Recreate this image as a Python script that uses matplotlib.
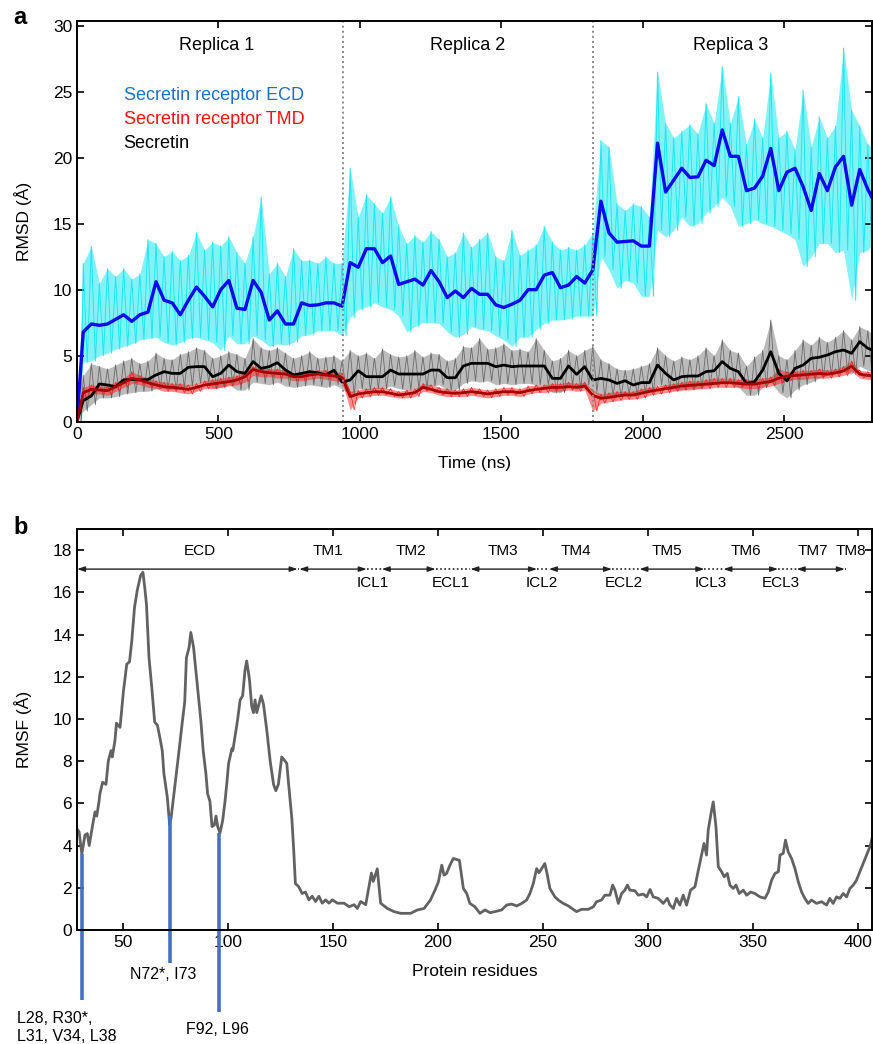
import numpy as np
import matplotlib
matplotlib.use('Agg')
from matplotlib import pyplot as plt

plt.rcParams['font.family'] = ['Liberation Sans', 'DejaVu Sans']

# ---- panel a: RMSD, one averaged point every 28.6 ns (first one at 22 ns)
t_avg = np.concatenate([[0.0], 22 + 28.6*np.arange(99)])
replica_edges = [940, 1823]
replica_names = ['Replica 1', 'Replica 2', 'Replica 3']
replica_mid = [494, 1380, 2311]

ecd_avg = [6.8, 7.4, 7.3, 7.4, 7.75, 8.1, 7.6, 8.1, 8.3, 10.6,
           9.2, 9.0, 8.1, 9.2, 10.2, 9.5, 8.7, 10.0, 10.7, 8.6,
           8.5, 10.7, 9.8, 7.7, 8.4, 7.4, 7.4, 9.0, 8.8, 8.85,
           9.0, 9.0, 8.75, 12.05, 11.7, 13.1, 13.1, 12.05, 12.55, 10.4,
           10.6, 10.8, 10.35, 11.45, 10.6, 9.4, 9.9, 9.4, 10.1, 9.65,
           9.65, 8.85, 8.65, 8.9, 9.2, 10.0, 10.0, 11.1, 11.3, 10.15,
           10.35, 11.0, 10.5, 11.5, 16.7, 14.3, 13.6, 13.65, 13.7, 13.3,
           13.3, 21.1, 17.4, 18.3, 19.2, 18.5, 18.55, 19.8, 19.4, 22.1,
           20.1, 20.1, 17.5, 17.7, 18.6, 20.7, 17.5, 18.9, 19.2, 17.8,
           16.0, 18.8, 17.5, 19.3, 20.1, 16.4, 19.1, 17.6, 16.4]
ecd_lo = [4.5, 4.6, 5.0, 5.2, 5.5, 5.7, 5.9, 6.2, 6.3, 6.4,
          6.0, 5.8, 6.0, 6.3, 6.4, 6.2, 6.0, 5.4, 6.5, 5.9,
          5.9, 6.5, 6.2, 5.7, 5.9, 5.8, 6.0, 6.5, 6.6, 6.9,
          6.9, 6.9, 6.5, 7.9, 8.5, 8.7, 9.0, 8.7, 8.5, 8.0,
          6.8, 7.2, 7.5, 7.5, 7.45, 6.8, 6.4, 6.6, 7.2, 7.0,
          6.9, 6.5, 6.2, 5.7, 6.4, 6.4, 7.0, 7.45, 7.7, 7.7,
          7.8, 8.0, 8.0, 8.0, 12.5, 11.5, 10.1, 10.7, 10.5, 9.5,
          9.5, 14.5, 14.0, 14.5, 15.5, 14.8, 15.0, 15.8, 16.3, 17.0,
          16.3, 14.8, 15.0, 15.3, 15.0, 14.8, 14.5, 14.2, 13.8, 11.75,
          12.5, 13.5, 13.5, 12.8, 13.0, 9.2, 12.8, 13.0, 13.8]
ecd_hi = [12.0, 13.3, 10.5, 11.6, 11.0, 11.6, 10.8, 11.2, 13.8, 13.5,
          12.5, 12.9, 12.2, 12.6, 14.3, 13.0, 13.6, 13.3, 14.0, 12.8,
          12.0, 14.0, 17.0, 11.2, 12.0, 11.0, 13.1, 12.2, 12.25, 12.0,
          12.5, 12.0, 12.0, 19.2, 15.5, 17.2, 16.5, 15.8, 17.0, 14.8,
          13.5, 14.1, 13.6, 14.4, 13.8, 12.5, 12.8, 14.3, 13.2, 13.8,
          14.3, 12.5, 12.2, 14.5, 12.6, 13.0, 13.4, 14.8, 13.6, 13.0,
          13.2, 13.0, 13.4, 14.3, 21.3, 20.8, 16.5, 16.0, 16.5, 16.3,
          15.5, 26.5, 22.6, 21.5, 22.0, 22.5, 21.8, 24.1, 22.6, 26.9,
          22.6, 24.6, 21.0, 22.9, 21.5, 26.4, 21.5, 22.0, 20.6, 25.1,
          20.8, 23.1, 21.5, 22.4, 28.3, 23.6, 22.4, 21.0, 20.6]

sec_avg = [1.6, 1.95, 2.86, 2.78, 2.65, 3.16, 3.2, 3.16, 3.2, 3.54,
           3.79, 3.66, 3.66, 4.12, 4.17, 4.17, 3.41, 3.66, 4.29, 3.79,
           3.66, 4.55, 4.04, 4.17, 4.47, 3.92, 3.54, 3.66, 3.79, 3.7,
           3.54, 3.9, 3.0, 3.16, 3.86, 3.41, 3.41, 3.41, 3.91, 3.61,
           3.61, 3.61, 3.61, 3.91, 3.91, 3.33, 3.33, 4.22, 4.42, 4.42,
           4.42, 4.17, 4.29, 4.17, 4.22, 4.22, 4.22, 4.22, 3.28, 3.28,
           4.22, 3.59, 4.17, 3.16, 3.28, 3.16, 2.9, 3.1, 2.78, 2.96,
           2.96, 4.29, 3.66, 3.16, 3.41, 3.46, 3.46, 3.79, 3.86, 4.55,
           4.04, 3.79, 2.9, 3.03, 3.91, 5.3, 3.66, 3.1, 4.04, 4.29,
           4.8, 4.88, 5.05, 5.3, 5.43, 5.18, 6.06, 5.56, 5.3]
sec_lo = [0.8, 1.3, 1.8, 1.8, 1.9, 2.1, 2.2, 2.3, 2.3, 2.5,
          2.5, 2.4, 2.6, 2.7, 2.9, 3.0, 2.5, 2.6, 2.8, 2.4,
          2.4, 3.0, 2.9, 2.8, 3.0, 2.7, 2.6, 2.7, 2.8, 2.7,
          2.6, 2.8, 2.5, 2.0, 2.5, 2.4, 2.5, 2.5, 2.7, 2.5,
          2.4, 2.5, 2.6, 2.7, 2.8, 2.4, 2.4, 2.9, 3.1, 3.0,
          3.1, 2.8, 2.9, 2.8, 2.9, 2.9, 2.8, 2.8, 2.2, 2.2,
          2.8, 2.5, 2.8, 2.3, 1.8, 2.0, 1.9, 2.1, 2.0, 2.2,
          2.2, 2.8, 2.5, 2.4, 2.4, 2.5, 2.5, 2.7, 2.8, 3.0,
          2.9, 2.6, 2.0, 2.0, 2.6, 3.0, 2.2, 1.8, 2.4, 2.8,
          3.0, 3.3, 3.5, 3.6, 3.8, 3.6, 4.2, 3.9, 3.7]
sec_hi = [3.5, 4.4, 4.2, 4.0, 4.3, 4.6, 4.8, 4.4, 4.6, 5.2,
          4.8, 4.7, 5.1, 5.3, 5.6, 5.4, 4.8, 5.0, 5.3, 5.1,
          4.8, 6.3, 5.6, 5.4, 5.6, 5.2, 4.8, 5.0, 5.3, 4.8,
          4.9, 5.0, 4.6, 5.4, 5.0, 5.2, 4.8, 5.5, 5.1, 4.9,
          5.0, 5.4, 4.9, 5.2, 5.1, 4.6, 4.8, 5.7, 5.6, 6.3,
          5.5, 5.6, 5.9, 5.4, 5.5, 5.3, 6.3, 5.4, 4.6, 4.8,
          5.4, 5.0, 5.4, 5.7, 4.7, 4.4, 4.0, 3.9, 4.0, 4.2,
          4.4, 5.6, 5.0, 4.6, 4.9, 4.7, 5.0, 5.6, 5.0, 6.2,
          5.4, 5.2, 4.2, 4.9, 5.4, 7.7, 5.0, 4.7, 5.4, 6.2,
          5.8, 6.4, 6.0, 6.4, 6.9, 6.2, 7.2, 6.9, 6.5]

tmd_avg = [2.2, 2.45, 2.4, 2.35, 2.65, 2.95, 3.28, 3.16, 2.95, 2.78,
           2.65, 2.6, 2.53, 2.45, 2.6, 2.78, 2.86, 2.95, 3.03, 3.16,
           3.41, 3.96, 3.79, 3.71, 3.66, 3.61, 3.41, 3.41, 3.54, 3.61,
           3.54, 3.46, 3.36, 1.9, 2.1, 2.2, 2.27, 2.27, 2.15, 2.02,
           2.1, 2.2, 2.6, 2.45, 2.27, 2.2, 2.15, 2.2, 2.27, 2.2,
           2.1, 2.2, 2.27, 2.27, 2.2, 2.35, 2.45, 2.53, 2.6, 2.6,
           2.65, 2.6, 2.7, 2.0, 1.77, 1.84, 1.94, 2.02, 2.02, 2.15,
           2.3, 2.4, 2.5, 2.6, 2.7, 2.75, 2.8, 2.85, 2.9, 2.95,
           2.95, 2.9, 2.85, 2.85, 2.95, 3.05, 3.3, 3.45, 3.5, 3.55,
           3.6, 3.65, 3.6, 3.7, 3.85, 4.2, 3.6, 3.5, 3.5]
tmd_lo = [1.6, 2.1, 2.1, 2.0, 2.3, 2.6, 2.9, 2.8, 2.6, 2.5,
          2.3, 2.3, 2.2, 2.1, 2.3, 2.5, 2.5, 2.6, 2.7, 2.8,
          3.0, 3.5, 3.4, 3.4, 3.3, 3.3, 3.1, 3.1, 3.2, 3.3,
          3.2, 3.1, 3.0, 0.9, 1.8, 1.9, 2.0, 2.0, 1.9, 1.8,
          1.8, 1.9, 2.3, 2.2, 2.0, 1.9, 1.9, 1.9, 2.0, 1.9,
          1.8, 1.9, 2.0, 2.0, 1.9, 2.1, 2.2, 2.2, 2.3, 2.3,
          2.4, 2.3, 2.4, 0.8, 1.4, 1.5, 1.6, 1.7, 1.7, 1.8,
          2.0, 2.1, 2.2, 2.3, 2.4, 2.4, 2.5, 2.5, 2.6, 2.6,
          2.6, 2.6, 2.5, 2.5, 2.6, 2.7, 2.9, 3.1, 3.2, 3.2,
          3.3, 3.3, 3.3, 3.4, 3.5, 3.8, 3.3, 3.2, 3.2]
tmd_hi = [2.6, 2.8, 2.7, 2.7, 3.0, 3.3, 3.8, 3.5, 3.3, 3.1,
          3.0, 2.9, 2.9, 2.8, 2.9, 3.1, 3.2, 3.3, 3.4, 3.5,
          3.8, 4.2, 4.1, 4.0, 4.0, 3.9, 3.7, 3.7, 3.9, 3.9,
          3.9, 3.8, 3.7, 2.3, 2.4, 2.5, 2.6, 2.6, 2.5, 2.3,
          2.4, 2.5, 2.9, 2.8, 2.6, 2.5, 2.4, 2.5, 2.6, 2.5,
          2.4, 2.5, 2.6, 2.6, 2.5, 2.7, 2.8, 2.8, 2.9, 2.9,
          3.0, 2.9, 3.0, 2.4, 2.1, 2.2, 2.3, 2.3, 2.3, 2.5,
          2.6, 2.7, 2.8, 2.9, 3.0, 3.1, 3.1, 3.2, 3.3, 3.3,
          3.3, 3.2, 3.2, 3.2, 3.3, 3.4, 4.0, 3.8, 3.8, 3.9,
          3.9, 4.0, 3.9, 4.0, 4.2, 4.6, 3.9, 3.8, 3.8]

# ---- panel b: RMSF per residue
resid = [28.1, 29.2, 30.5, 32.0, 33.1, 34.0, 35.7, 36.8, 37.6, 38.7, 39.1, 40.4, 42.0,
         43.1, 44.4, 45.0, 46.3, 47.0, 48.7, 50.3, 51.9, 53.2, 54.3, 55.6, 56.9, 58.5,
         59.6, 60.5, 61.3, 62.5, 63.8, 65.2, 66.5, 67.7, 68.8, 69.6, 71.2, 72.3, 73.0,
         73.6, 75.2, 76.8, 78.4, 79.5, 80.3, 81.6, 82.4, 83.7, 85.6, 87.2, 88.3, 89.6,
         90.4, 91.5, 92.5, 93.6, 94.4, 95.2, 96.3, 97.6, 98.7, 99.5, 100.4, 102.0, 102.4,
         103.5, 104.6, 105.9, 107.1, 108.2, 109.0, 110.3, 111.4, 112.2, 113.0, 113.8,
         115.9, 117.0, 118.6, 120.2, 121.8, 122.9, 124.1, 125.7, 128.1, 128.9, 130.5,
         131.4, 132.2, 133.8, 135.4, 137.0, 138.6, 140.2, 141.8, 143.4, 145.0, 146.6,
         148.2, 149.8, 152.2, 155.4, 157.8, 160.2, 161.7, 163.3, 165.7, 167.3, 168.4,
         169.3, 171.2, 172.8, 176.0, 179.2, 182.4, 187.1, 190.3, 193.5, 196.5, 198.7,
         200.3, 201.9, 203.0, 204.2, 205.8, 207.4, 209.0, 210.3, 211.4, 212.2, 213.8,
         215.3, 217.7, 220.1, 222.5, 224.9, 227.2, 230.4, 232.8, 235.2, 237.6, 240.0,
         242.3, 243.9, 245.5, 247.1, 248.2, 249.5, 251.0, 252.2, 253.4, 255.8, 257.4,
         259.8, 262.2, 266.1, 268.5, 271.7, 274.1, 275.6, 278.0, 279.6, 282.0, 283.3,
         284.4, 286.0, 287.6, 289.1, 290.3, 291.5, 293.9, 295.5, 297.9, 299.5, 301.1,
         302.6, 305.0, 307.4, 309.3, 310.6, 312.2, 313.7, 315.3, 316.9, 318.5, 320.4,
         322.5, 324.1, 325.6, 326.8, 328.0, 328.8, 330.1, 331.2, 332.5, 333.6, 335.2,
         336.4, 337.9, 339.1, 340.7, 342.0, 343.6, 345.5, 347.1, 349.0, 351.0, 353.4,
         355.8, 357.4, 359.0, 360.6, 362.2, 363.0, 364.5, 365.6, 366.9, 368.5, 370.1,
         371.7, 373.3, 374.8, 376.4, 378.0, 380.4, 382.8, 385.2, 386.7, 388.3, 389.9,
         391.5, 393.1, 394.7, 396.3, 397.9, 399.4, 401.0, 402.6, 404.2, 405.8, 407.0]
rmsf = [4.8, 4.65, 3.6, 4.5, 4.57, 4.0, 5.0, 5.6, 5.4, 6.1, 6.45, 7.0, 6.9,
        8.0, 8.5, 8.2, 9.0, 9.8, 9.6, 11.3, 12.6, 12.7, 13.7, 15.3, 16.1, 16.8,
        16.95, 16.2, 15.4, 12.9, 11.5, 9.85, 9.7, 9.1, 8.5, 7.4, 6.3, 5.0, 5.3,
        5.8, 7.1, 8.5, 9.9, 10.8, 12.9, 13.4, 14.1, 13.4, 11.5, 9.9, 8.5, 7.4,
        6.45, 6.1, 4.9, 4.97, 5.4, 4.9, 4.6, 5.2, 6.1, 6.9, 7.9, 8.6, 8.5,
        9.2, 9.9, 10.9, 11.1, 12.3, 12.75, 11.9, 10.6, 10.3, 10.9, 10.3,
        11.1, 10.7, 9.45, 8.0, 6.9, 6.6, 6.9, 8.2, 7.9, 7.0, 5.3,
        3.8, 2.2, 2.05, 1.73, 1.8, 1.43, 1.6, 1.35, 1.6, 1.27, 1.43,
        1.27, 1.43, 1.27, 1.27, 1.1, 1.2, 1.02, 1.35, 1.2, 2.1, 2.7,
        2.3, 2.9, 1.27, 1.02, 0.87, 0.79, 0.79, 0.95, 1.02, 1.42, 1.89,
        2.28, 3.07, 2.6, 2.68, 3.07, 3.39, 3.34, 3.3, 2.52, 1.97, 1.73,
        1.26, 1.1, 0.79, 0.95, 0.82, 0.87, 0.95, 1.18, 1.23, 1.14, 1.26,
        1.42, 1.73, 2.2, 2.91, 2.71, 2.91, 3.15, 2.6, 1.97, 1.57, 1.42,
        1.26, 1.14, 0.87, 0.98, 0.98, 1.1, 1.34, 1.42, 1.65, 1.65, 2.13,
        1.89, 1.26, 1.73, 1.89, 2.13, 1.89, 1.86, 1.65, 1.7, 1.57, 1.92,
        1.57, 1.5, 1.26, 1.5, 1.18, 1.02, 1.5, 1.18, 1.65, 1.18, 1.89,
        2.05, 2.84, 3.55, 4.1, 3.55, 4.73, 5.5, 6.07, 4.88, 3.0, 2.76,
        2.52, 2.68, 2.13, 1.97, 2.13, 1.73, 1.89, 1.65, 1.8, 1.73, 1.57,
        1.5, 1.8, 2.36, 2.68, 2.76, 3.55, 3.63, 4.26, 3.7, 3.39, 2.91,
        2.28, 1.8, 1.5, 1.26, 1.42, 1.26, 1.34, 1.18, 1.5, 1.26, 1.57,
        1.5, 1.73, 1.57, 1.97, 2.13, 2.36, 2.76, 3.15, 3.55, 3.94, 4.41]

seg_names = ['ECD', 'TM1', 'TM2', 'TM3', 'TM4', 'TM5', 'TM6', 'TM7', 'TM8']
seg_start = [28.2, 134.0, 173.3, 215.5, 252.9, 296.0, 336.0, 370.9, 394.6]
seg_end = [133.3, 166.2, 199.0, 247.3, 283.0, 327.0, 362.1, 393.9, 414.0]
seg_label_x = [86.8, 147.7, 187.0, 231.0, 265.6, 309.0, 346.8, 378.6, 396.9]
loop_names = ['ICL1', 'ECL1', 'ICL2', 'ECL2', 'ICL3', 'ECL3']
loop_x = [169.2, 206.4, 249.3, 288.5, 330.2, 363.5]

key_resid = [30.5, 72.7, 95.9]
key_top = [3.6, 5.4, 4.6]
key_bottom = [-3.3, -1.58, -3.9]

fig = plt.figure(figsize=(8.73, 10.44), dpi=100)
ax1 = fig.add_axes([77/873, (1044-421.7)/1044, 795/873, 400.7/1044])
ax2 = fig.add_axes([77/873, (1044-930)/1044, 795/873, 401/1044])


def noisy(ax, t, lo, hi, color, alpha, lw=0.6):
    lo = np.concatenate([[0.0], lo])
    hi = np.concatenate([[0.0], hi])
    ax.fill_between(t, lo, hi, color=color, alpha=alpha, lw=0)
    xs = np.column_stack([t, t + 14.3]).ravel()
    ys = np.column_stack([hi, lo]).ravel()
    ax.plot(xs, ys, color=color, lw=lw)


noisy(ax1, t_avg, ecd_lo, ecd_hi, '#1ee8f2', 0.55, lw=0.7)
noisy(ax1, t_avg, sec_lo, sec_hi, '#6a6a6a', 0.45)
noisy(ax1, t_avg, tmd_lo, tmd_hi, '#ff1a1a', 0.5, lw=0.5)
ax1.plot(t_avg, [0] + ecd_avg, color='#0a0aee', lw=2.4)
ax1.plot(t_avg, [0] + sec_avg, color='black', lw=2.0)
ax1.plot(t_avg, [0] + tmd_avg, color='#a80000', lw=2.0)

for xe in replica_edges:
    ax1.axvline(xe, color='#8a8a8a', ls=(0, (1, 1.6)), lw=1.4)
for name, xm in zip(replica_names, replica_mid):
    ax1.text(xm, 28.5, name, ha='center', va='center', fontsize=13)

ax1.text(165, 24.7, 'Secretin receptor ECD', color='#1a6fd0', fontsize=13, va='center')
ax1.text(165, 22.9, 'Secretin receptor TMD', color='#ff1010', fontsize=13, va='center')
ax1.text(165, 21.1, 'Secretin', color='black', fontsize=13, va='center')

ax1.set_xlim(0, 2811)
ax1.set_ylim(0, 30.35)
ax1.set_xticks([0, 500, 1000, 1500, 2000, 2500])
ax1.set_yticks([0, 5, 10, 15, 20, 25, 30])
ax1.set_xlabel('Time (ns)', fontsize=12.5)
ax1.set_ylabel('RMSD (Å)', fontsize=12.5)
ax1.xaxis.set_label_coords(0.5, -0.085)
ax1.yaxis.set_label_coords(-0.056, 0.5)

# panel b
ax2.plot(resid, rmsf, color='#626262', lw=2.0)
for xr, yt, yb in zip(key_resid, key_top, key_bottom):
    ax2.plot([xr, xr], [yt, yb], color='#4470c8', lw=2.6, clip_on=False,
             solid_capstyle='butt')
ax2.text(-0.5, -4.6, 'L28, R30*,\nL31, V34, L38', ha='left', va='center',
         fontsize=11.5, linespacing=1.25)
ax2.text(69.2, -2.13, 'N72*, I73', ha='center', va='center', fontsize=11.5)
ax2.text(94.9, -4.73, 'F92, L96', ha='center', va='center', fontsize=11.5)

arrow_y = 17.1
for name, x0, x1, xl in zip(seg_names, seg_start, seg_end, seg_label_x):
    ax2.annotate('', xy=(x1, arrow_y), xytext=(x0, arrow_y),
                 arrowprops=dict(arrowstyle='<|-|>,head_length=0.45,head_width=0.15',
                                 color='#222222', lw=1.0, shrinkA=0, shrinkB=0))
    ax2.text(xl, 17.95, name, ha='center', va='center', fontsize=11)
for i in range(len(seg_end) - 1):
    ax2.plot([seg_end[i], seg_start[i+1]], [arrow_y, arrow_y], color='#222222',
             ls=(0, (1, 1.5)), lw=1.2)
for name, xl in zip(loop_names, loop_x):
    ax2.text(xl, 16.45, name, ha='center', va='center', fontsize=11)

ax2.set_xlim(28.2, 406.8)
ax2.set_ylim(0, 19)
ax2.set_xticks([50, 100, 150, 200, 250, 300, 350, 400])
ax2.set_yticks([0, 2, 4, 6, 8, 10, 12, 14, 16, 18])
ax2.set_xlabel('Protein residues', fontsize=12.5)
ax2.set_ylabel('RMSF (Å)', fontsize=12.5)
ax2.xaxis.set_label_coords(0.5, -0.085)
ax2.yaxis.set_label_coords(-0.056, 0.5)

for ax in (ax1, ax2):
    ax.tick_params(direction='in', top=True, right=True, length=5, width=1.2,
                   labelsize=12.5)
    for s in ax.spines.values():
        s.set_linewidth(1.4)

fig.text(13/873, 1 - 18/1044, 'a', fontsize=17, weight='bold', va='center')
fig.text(13/873, 1 - 527/1044, 'b', fontsize=17, weight='bold', va='center')

fig.savefig('out.png', dpi=100)
